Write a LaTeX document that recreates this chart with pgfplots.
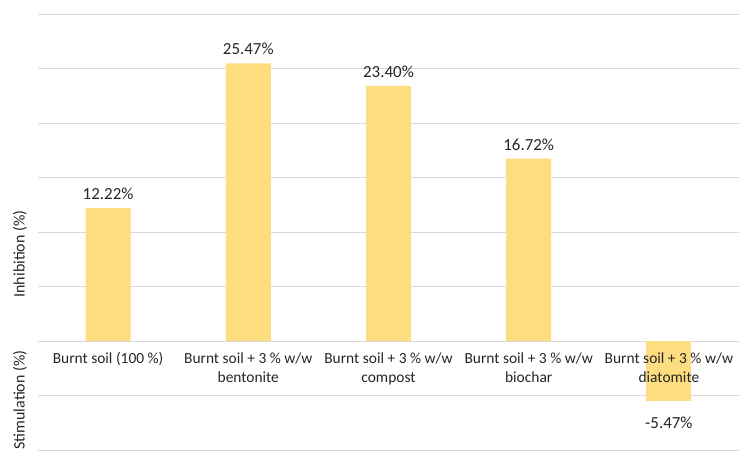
\documentclass[border=0pt]{standalone}
\usepackage{pgfplots}
\pgfplotsset{compat=1.18}
\usepackage{fontspec}
\setmainfont{Carlito}
\definecolor{barc}{HTML}{FEDC80}
\definecolor{gridc}{HTML}{D9D9D9}
\definecolor{txt}{HTML}{262626}
\pgfplotsset{layers/mylayers/.define layer set={axis background,axis grid,axis ticks,main,axis lines,axis tick labels,axis descriptions,axis foreground}{}}
\begin{document}
\begin{tikzpicture}
\begin{axis}[
  set layers=mylayers,
  scale only axis,
  width=701bp, height=436bp,
  xmin=-0.5, xmax=4.5,
  ymin=-10, ymax=30,
  ytick={-10,-5,0,5,10,15,20,25,30},
  yticklabels={},
  ymajorgrids,
  major grid style={gridc, line width=0.8pt},
  major tick length=0pt,
  axis y line*=left,
  y axis line style={draw=none},
  axis x line*=middle,
  x axis line style={gridc, line width=0.8pt, -},
  xtick={0,1,2,3,4},
  xticklabels={{Burnt soil (100 \%)},{Burnt soil + 3 \% w/w\\bentonite},{Burnt soil + 3 \% w/w\\compost},{Burnt soil + 3 \% w/w\\biochar},{Burnt soil + 3 \% w/w\\diatomite}},
  xticklabel style={align=center, font=\fontsize{15.5}{19.5}\selectfont, text=txt, yshift=-8bp, /pgfplots/on layer=axis foreground},
  ybar, bar width=45bp, bar shift=0pt,
  nodes near coords,
  point meta=explicit symbolic,
  clip=false,
]
\addplot[fill=barc, draw=none,
  every node near coord/.append style={font=\fontsize{17}{19}\selectfont, text=txt, anchor=south, yshift=5bp}] coordinates {
  (0,12.22) [12.22\%]
  (1,25.47) [25.47\%]
  (2,23.40) [23.40\%]
  (3,16.72) [16.72\%]
};
\addplot[fill=barc, draw=none,
  every node near coord/.append style={font=\fontsize{17}{19}\selectfont, text=txt, anchor=north, yshift=-13bp}] coordinates {
  (4,-5.47) [-5.47\%]
};
\coordinate (ll) at (rel axis cs:0,0);
\coordinate (ur) at (rel axis cs:1,1);
\coordinate (zero) at (axis cs:-0.5,0);
\end{axis}
\node[rotate=90, font=\fontsize{16}{18}\selectfont, text=txt] at ([xshift=-18bp,yshift=87bp]zero) {Inhibition (\%)};
\node[rotate=90, font=\fontsize{16}{18}\selectfont, text=txt] at ([xshift=-18bp,yshift=-59bp]zero) {Stimulation (\%)};
\pgfresetboundingbox
\path[use as bounding box] ([xshift=-38bp,yshift=-14bp]ll) rectangle ([yshift=14bp]ur);
\end{tikzpicture}
\end{document}
